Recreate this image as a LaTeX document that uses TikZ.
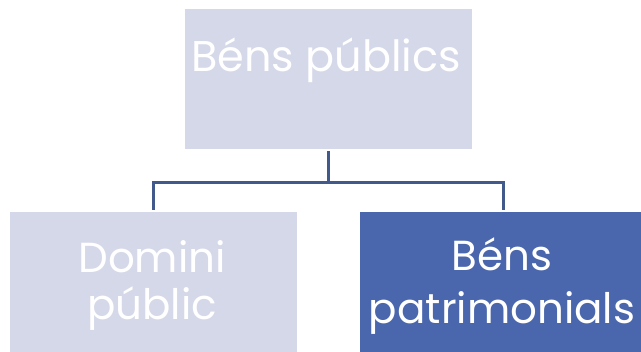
\documentclass[tikz,border=0pt]{standalone}
\usepackage{fontspec}
\setmainfont{Poppins}
\usetikzlibrary{positioning}

\definecolor{boxlight}{HTML}{D5D8E8}
\definecolor{boxdark}{HTML}{4A66AC}
\definecolor{linkblue}{HTML}{41598B}

\begin{document}
\begin{tikzpicture}[
        x=1pt, y=-1pt,
        box/.style={rectangle, minimum width=287pt, minimum height=140pt, inner sep=0pt},
        lbl/.style={text=white, align=center, inner sep=0pt},
        link/.style={draw=linkblue, line width=3pt, line cap=rect}
    ]
    \useasboundingbox (0,0) rectangle (641,352);
    % Boxes
    \node[box, fill=boxlight] (top) at (328.5,79.5) {};
    \node[box, fill=boxlight] (domini) at (153,282.5) {};
    \node[box, fill=boxdark] (patrim) at (503.5,282.5) {};

    % Texts
    \node[lbl, font=\fontsize{43}{48}\selectfont, anchor=base] (toptext) at (326,72) {Béns públics};
    \node[lbl, font=\fontsize{42}{47}\selectfont] (dominitext) at (152,285) {Domini\\públic};
    \node[lbl, font=\fontsize{42}{53}\selectfont] (patrimtext) at (502,286) {Béns\\patrimonials};

    % Connectors
    \coordinate (split) at (328.5,183);
    \draw[link] ([yshift=-3pt]top.south) -- (split);
    \draw[link] (split) -| ([yshift=4pt]domini.north);
    \draw[link] (split) -| ([yshift=4pt]patrim.north);
\end{tikzpicture}
\end{document}
